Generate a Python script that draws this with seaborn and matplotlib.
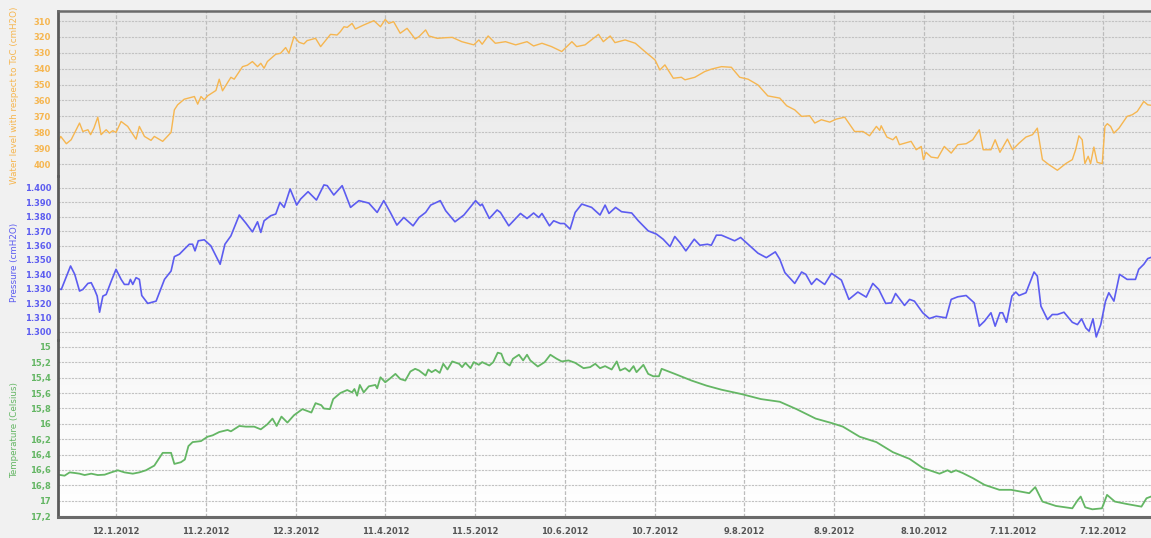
import numpy as np
import pandas as pd
import matplotlib
matplotlib.use("Agg")
import matplotlib.pyplot as plt
import matplotlib.ticker as mticker
import matplotlib.dates as mdates
from matplotlib.colors import LinearSegmentedColormap
import seaborn as sns

# origin of the day offsets below (left edge of the chart)
start = pd.Timestamp("2011-12-23 14:00")

# water level (cmH2O)
level_days = [0, 0.9, 2.8, 4.4, 7.2, 8.3, 10, 10.9, 12, 13.3, 14.4, 16.1, 17.2, 18.3, 19.4,
              21.1, 23.3, 24.4, 26.1, 27.2, 28.9, 31.1, 32.2, 35, 37.8, 38.9, 40, 42.2, 44.4,
              45.6, 46.7, 47.8, 48.9, 50, 52.8, 53.9, 55, 57.8, 58.9, 61.7, 63.3, 65, 66.7,
              67.8, 68.9, 70, 72.8, 74.4, 76.1, 77.2, 78.9, 80.6, 82.2, 83.3, 86.1, 87.8,
              91.1, 93.3, 94.4, 95.6, 96.7, 98.3, 99.4, 102.2, 105.6, 107.8, 109.4, 110.6,
              112.2, 114.4, 116.7, 119.4, 120.7, 122.9, 124, 126.8, 129.6, 131.8, 135, 139,
              140.7, 141.8, 143.8, 146.2, 149.6, 153, 156.8, 159, 161.8, 165, 168.4, 171.8,
              173.4, 176.2, 180.7, 182.3, 184.6, 186.2, 189.6, 193, 196.2, 199.6, 201.2,
              202.9, 205.7, 208.4, 209.6, 212.9, 216.2, 218.4, 221.8, 225.1, 227.9, 230.7,
              234, 237.3, 241.3, 243.6, 246.3, 248.6, 251.3, 253, 255.2, 258, 260.2, 263,
              266.3, 269.1, 271.3, 273.6, 274.7, 275.2, 277.1, 279.1, 280.2, 281.3, 285.2,
              286.9, 288.6, 289.3, 290.2, 291.9, 294.1, 296.3, 298.6, 300.8, 303.6, 305.8,
              308, 309.3, 311.9, 313.3, 314.9, 317.4, 319.1, 321.3, 323.6, 325.8, 327.4,
              329.1, 331.3, 334.1, 336.9, 339.1, 340.2, 341.3, 342.4, 343.3, 344.4, 345.2,
              346.3, 347.4, 349.1, 350, 350.8, 351.9, 353, 354.7, 357.4, 359.1, 360.8, 363,
              364.3, 365.4]
level_cm = [386, 382.6, 387.2, 384.7, 374.2, 379.5, 378.4, 381.5, 377.4, 370.5, 381.5, 378.4,
            380.5, 379, 380.1, 373.2, 376.3, 379.5, 384.3, 376.3, 382.6, 385.1, 382.6, 385.7,
            380.1, 365.9, 362.7, 359.2, 358.1, 357.5, 362.3, 357.5, 359.6, 357.1, 353.7,
            346.6, 353.9, 345.4, 346.6, 338.7, 337.8, 335.5, 338.7, 336.6, 339.7, 335.5,
            330.9, 330.3, 326.7, 330.3, 319.8, 323.4, 324.4, 322.3, 320.9, 326.1, 318.4,
            318.8, 316.7, 313.6, 314, 311.5, 315, 312.5, 309.8, 313.6, 309, 311.5, 310.4,
            317.7, 314.6, 321.3, 319.8, 315.6, 319.4, 320.9, 320.5, 320.3, 323, 325, 321.9,
            324.6, 319.4, 324, 323, 325, 323, 325.7, 324, 326.1, 329.2, 323, 326.1, 325,
            318.4, 323, 319.4, 323.6, 321.9, 324, 329.2, 334.5, 340.8, 337.6, 346, 345.4,
            347, 345.4, 341.8, 340.3, 338.7, 339.1, 345.4, 346.6, 350.2, 357.1, 358.5, 363.3,
            365.9, 370, 369.6, 374.2, 372.1, 373.6, 371.7, 370.5, 379.5, 379.5, 382.2, 376.3,
            378.8, 375.9, 383, 384.7, 382.6, 387.8, 385.7, 391, 388.9, 397.2, 392.6, 395.6,
            396.2, 388.9, 393.1, 387.8, 387.2, 384.7, 378.4, 391, 391, 384.7, 392.6, 384.3,
            391, 386.8, 383, 381.5, 377.4, 397.2, 400.4, 403.9, 399.7, 397.2, 391, 382.2,
            384.7, 399.7, 395.1, 399.7, 389.3, 398.9, 399.7, 376.3, 374.6, 376.3, 380.5,
            377.4, 370, 369, 366.9, 360.6, 362.7, 363]

# pressure (cmH2O)
press_days = [0, 1.1, 4.2, 5.6, 7.2, 8.3, 10, 11.1, 12.2, 13.1, 13.9, 15, 16.1, 17.8, 19.4,
              21.1, 22.2, 23.6, 24.2, 25, 26.1, 27.2, 28, 30, 32.8, 35.6, 37.8, 38.9, 40.6,
              42.2, 43.9, 45, 45.8, 46.9, 48.9, 51.1, 53.1, 54.2, 55.8, 57.8, 60.6, 62.8, 65,
              66.7, 67.8, 68.9, 71.1, 72.8, 74.2, 75.6, 77.6, 79.8, 81.1, 83.6, 86.4, 88.9,
              90, 92.2, 95, 97.8, 100.6, 103.9, 106.7, 108.9, 111.1, 113.3, 115.6, 118.7,
              120.7, 122.9, 124.6, 127.8, 129.6, 132.7, 135.7, 139.6, 141.2, 141.8, 144.2,
              146.8, 147.9, 150.7, 154.6, 156.8, 159, 160.7, 161.8, 164.3, 165.7, 167.9,
              169.3, 171.2, 172.9, 175.1, 178.4, 181.2, 182.9, 184.2, 186.4, 188.4, 191.8,
              194, 197.3, 200.1, 202.3, 204.6, 206.2, 207.9, 209.9, 212.7, 214.6, 217.1,
              218.4, 220.1, 221.8, 226.2, 228.2, 230.7, 234, 236.8, 239.8, 241.3, 243, 246.3,
              248.6, 250, 251.9, 253.6, 256.3, 258.6, 261.9, 264.4, 267.4, 270.2, 272.4,
              274.4, 276.7, 278.6, 280, 283, 284.7, 286.3, 289.1, 291.3, 293.6, 296.9, 298.6,
              300.8, 303.6, 306.3, 308, 309.7, 311.9, 313.3, 314.9, 315.8, 317.1, 318.9,
              320.2, 321.3, 323.6, 326.3, 327.4, 328.6, 330.8, 332.4, 334.1, 336.3, 339.1,
              340.8, 342.2, 343.6, 344.7, 346, 347.1, 348.6, 350.2, 351.3, 353, 354.9, 357.4,
              360.2, 361.3, 363, 364.3, 365.4]
press_val = [1.3300, 1.3295, 1.3458, 1.3400, 1.3284, 1.3295, 1.3337, 1.3342, 1.3295, 1.3249,
             1.3137, 1.3249, 1.3260, 1.3353, 1.3435, 1.3365, 1.3330, 1.3330, 1.3365, 1.3330,
             1.3377, 1.3365, 1.3253, 1.3198, 1.3214, 1.3365, 1.3423, 1.3523, 1.3540, 1.3574,
             1.3609, 1.3609, 1.3563, 1.3633, 1.3640, 1.3598, 1.3516, 1.3470, 1.3609, 1.3667,
             1.3812, 1.3756, 1.3695, 1.3765, 1.3691, 1.3772, 1.3807, 1.3819, 1.3900, 1.3865,
             1.3993, 1.3881, 1.3923, 1.3974, 1.3916, 1.4021, 1.4016, 1.3951, 1.4016, 1.3865,
             1.3912, 1.3895, 1.3830, 1.3912, 1.3830, 1.3742, 1.3795, 1.3737, 1.3795, 1.3830,
             1.3881, 1.3912, 1.3842, 1.3765, 1.3812, 1.3912, 1.3877, 1.3888, 1.3788, 1.3847,
             1.3830, 1.3737, 1.3823, 1.3788, 1.3826, 1.3795, 1.3823, 1.3737, 1.3772, 1.3753,
             1.3753, 1.3714, 1.3830, 1.3888, 1.3865, 1.3812, 1.3881, 1.3823, 1.3865, 1.3835,
             1.3826, 1.3772, 1.3702, 1.3679, 1.3644, 1.3593, 1.3663, 1.3621, 1.3563, 1.3644,
             1.3602, 1.3609, 1.3602, 1.3672, 1.3672, 1.3633, 1.3656, 1.3609, 1.3547, 1.3516,
             1.3556, 1.3505, 1.3412, 1.3337, 1.3416, 1.3400, 1.3330, 1.3370, 1.3330, 1.3407,
             1.3360, 1.3226, 1.3277, 1.3242, 1.3337, 1.3295, 1.3198, 1.3202, 1.3267, 1.3184,
             1.3226, 1.3214, 1.3133, 1.3093, 1.3109, 1.3098, 1.3226, 1.3244, 1.3253, 1.3202,
             1.3040, 1.3074, 1.3133, 1.3040, 1.3133, 1.3133, 1.3067, 1.3249, 1.3277, 1.3253,
             1.3272, 1.3416, 1.3388, 1.3179, 1.3086, 1.3121, 1.3121, 1.3137, 1.3067, 1.3051,
             1.3091, 1.3028, 1.3005, 1.3091, 1.2965, 1.3051, 1.3214, 1.3272, 1.3214, 1.3400,
             1.3365, 1.3365, 1.3435, 1.3470, 1.3509, 1.3518]

# temperature (Celsius)
temp_days = [0, 2.2, 3.9, 5.6, 7.2, 8.9, 11.1, 13.3, 15.6, 17.8, 20, 22.2, 25, 27.2, 29.4,
             32.2, 33.9, 35, 37.8, 38.9, 41.1, 42.4, 43.6, 45, 47.8, 50, 51.7, 53.9, 56.7,
             57.8, 60.6, 62.8, 65.6, 67.8, 70, 71.7, 73.1, 74.7, 76.7, 78.9, 81.7, 84.7, 86.1,
             88, 88.9, 90.9, 92, 94.4, 96.7, 98.3, 99.1, 100, 100.9, 102.2, 103.9, 106.1,
             106.7, 107.8, 109.4, 111.1, 112.8, 114.4, 116.1, 117.8, 119.4, 120.7, 122.9,
             123.8, 124.9, 126.2, 127.6, 128.8, 130.2, 131.8, 134.1, 135.1, 136.2, 137.9, 139,
             140.7, 141.8, 144.2, 145.5, 147, 148.2, 149.3, 151, 152.1, 154.1, 155.5, 156.8,
             157.9, 160.4, 162.7, 164.6, 166.7, 168.4, 170.7, 172.9, 175.7, 177.9, 179.6,
             181.2, 182.9, 185.1, 186.8, 187.9, 189.6, 191, 192.4, 193.4, 195.7, 197.3, 199,
             200.9, 201.8, 206.2, 211.8, 216.8, 221.8, 228.4, 235, 241.3, 246.9, 253.3, 258.9,
             262.4, 268, 273.6, 279.1, 284.7, 289.1, 294.7, 297.4, 298.6, 300.2, 302.4, 305.8,
             309.7, 314.7, 318.6, 324.7, 326.7, 329.1, 333.6, 339.1, 340.8, 341.9, 343.4,
             345.8, 349, 350.7, 353.3, 357.2, 362.2, 363.9, 365.4]
temp_val = [16.662, 16.675, 16.632, 16.640, 16.649, 16.667, 16.649, 16.667, 16.662, 16.632,
            16.605, 16.632, 16.649, 16.632, 16.605, 16.544, 16.444, 16.378, 16.378, 16.522,
            16.500, 16.465, 16.290, 16.238, 16.225, 16.168, 16.150, 16.107, 16.080, 16.098,
            16.028, 16.037, 16.037, 16.072, 16.006, 15.932, 16.028, 15.906, 15.984, 15.888,
            15.809, 15.853, 15.731, 15.757, 15.801, 15.809, 15.678, 15.599, 15.560, 15.591,
            15.547, 15.634, 15.494, 15.591, 15.512, 15.494, 15.538, 15.394, 15.459, 15.407,
            15.350, 15.416, 15.437, 15.319, 15.284, 15.306, 15.372, 15.293, 15.328, 15.297,
            15.337, 15.219, 15.293, 15.188, 15.219, 15.262, 15.206, 15.276, 15.197, 15.232,
            15.197, 15.241, 15.197, 15.074, 15.087, 15.197, 15.241, 15.153, 15.101, 15.175,
            15.101, 15.175, 15.254, 15.197, 15.101, 15.153, 15.188, 15.175, 15.206, 15.276,
            15.262, 15.219, 15.276, 15.249, 15.293, 15.188, 15.306, 15.276, 15.319, 15.249,
            15.328, 15.232, 15.350, 15.381, 15.381, 15.284, 15.350, 15.437, 15.503, 15.556,
            15.612, 15.678, 15.713, 15.809, 15.932, 15.993, 16.037, 16.168, 16.238, 16.369,
            16.457, 16.575, 16.649, 16.605, 16.632, 16.605, 16.640, 16.706, 16.794, 16.859,
            16.859, 16.903, 16.824, 17.012, 17.069, 17.100, 16.999, 16.947, 17.087, 17.113,
            17.100, 16.925, 17.012, 17.043, 17.078, 16.969, 16.947]

level_ticks = list(range(310, 401, 10))
press_ticks = [1.30, 1.31, 1.32, 1.33, 1.34, 1.35, 1.36, 1.37, 1.38, 1.39, 1.40]
temp_ticks = [15, 15.2, 15.4, 15.6, 15.8, 16, 16.2, 16.4, 16.6, 16.8, 17, 17.2]
date_ticks = pd.date_range("2012-01-12", periods=12, freq="30D")

ORANGE = "#f6b650"
BLUE = "#5c5cf0"
GREEN = "#64b664"


def to_frame(days, vals):
    return pd.DataFrame({"date": start + pd.to_timedelta(days, unit="D"), "value": vals})


sns.set_style("white")
plt.rcParams["font.family"] = ["DejaVu Sans"]

W, H = 1151, 538
fig = plt.figure(figsize=(W / 100, H / 100), dpi=100, facecolor="#f1f1f1")

x0, x1 = 58, 1151
def box(top, bottom):
    return [x0 / W, 1 - bottom / H, (x1 - x0) / W, (bottom - top) / H]

# gradient background behind the three panels
bg = fig.add_axes(box(11, 517), zorder=0)
cmap = LinearSegmentedColormap.from_list("bg", ["#ffffff", "#e8e8e8"])
bg.imshow(np.linspace(0, 1, 256).reshape(-1, 1), aspect="auto", cmap=cmap,
          origin="lower", extent=[0, 1, 0, 1])
bg.axis("off")

ax_top = fig.add_axes(box(11, 176), zorder=2)
ax_mid = fig.add_axes(box(176, 340), zorder=2, sharex=ax_top)
ax_bot = fig.add_axes(box(340, 517), zorder=2, sharex=ax_top)

panels = [
    (ax_top, to_frame(level_days, level_cm), ORANGE, 1.0, level_ticks, (407.5, 303.7),
     "Water level with respect to ToC (cmH2O)", lambda v, p: f"{v:.0f}", 0.49),
    (ax_mid, to_frame(press_days, press_val), BLUE, 1.2, press_ticks, (1.2944, 1.4083),
     "Pressure (cmH2O)", lambda v, p: f"{v:.3f}", 0.476),
    (ax_bot, to_frame(temp_days, temp_val), GREEN, 1.3, temp_ticks, (17.213, 14.909),
     "Temperature (Celsius)", lambda v, p: (f"{round(v, 1):g}").replace(".", ","), 0.49),
]

grid_kw = dict(color="#c2c2c2", linewidth=0.8, linestyle=(0, (2, 1)))

for ax, df, col, lw, ticks, lims, label, fmt, ly in panels:
    ax.set_facecolor("none")
    sns.lineplot(data=df, x="date", y="value", ax=ax, color=col, linewidth=lw)
    ax.set_ylim(*lims)
    ax.yaxis.set_major_locator(mticker.FixedLocator(ticks))
    ax.yaxis.set_major_formatter(mticker.FuncFormatter(fmt))
    ax.tick_params(axis="y", colors=col, labelsize=6, length=3, width=1, pad=2)
    for t in ax.get_yticklabels():
        t.set_fontweight("bold")
    ax.set_ylabel(label, color=col, fontsize=6.3)
    ax.yaxis.set_label_coords((19 - x0) / (x1 - x0), ly)
    ax.set_xlabel("")
    ax.grid(True, axis="y", **grid_kw)
    ax.grid(True, axis="x", which="major", color="#bcbcbc", linewidth=0.9,
            linestyle=(0, (3, 1.5)))
    for s in ["top", "right", "bottom"]:
        ax.spines[s].set_visible(False)
    ax.spines["left"].set_color("#5a5a5a")
    ax.spines["left"].set_linewidth(2)

ax_top.spines["top"].set_visible(True)
ax_top.spines["top"].set_color("#6a6a6a")
ax_top.spines["top"].set_linewidth(1.8)
ax_bot.spines["bottom"].set_visible(True)
ax_bot.spines["bottom"].set_color("#6a6a6a")
ax_bot.spines["bottom"].set_linewidth(2.2)

ax_bot.set_xlim(mdates.date2num(start), mdates.date2num(start + pd.Timedelta(days=365.4)))
major = mdates.date2num(date_ticks)
minor = mdates.date2num(pd.Timestamp("2012-01-12")) + np.arange(-3, 47) * 7.5
ax_bot.xaxis.set_major_locator(mticker.FixedLocator(major))
ax_bot.xaxis.set_minor_locator(mticker.FixedLocator(minor))
ax_bot.xaxis.set_major_formatter(mticker.FuncFormatter(
    lambda v, p: (lambda d: f"{d.day}.{d.month}.{d.year}")(mdates.num2date(v))))

for ax in (ax_top, ax_mid):
    ax.tick_params(axis="x", which="both", length=0, labelbottom=False)
ax_bot.tick_params(axis="x", which="major", colors="#555555", labelsize=6, length=4,
                   width=0.8, pad=3)
ax_bot.tick_params(axis="x", which="minor", color="#888888", length=2.5, width=0.8)
for t in ax_bot.get_xticklabels():
    t.set_fontweight("bold")

fig.savefig("out.png", dpi=100, facecolor=fig.get_facecolor())
